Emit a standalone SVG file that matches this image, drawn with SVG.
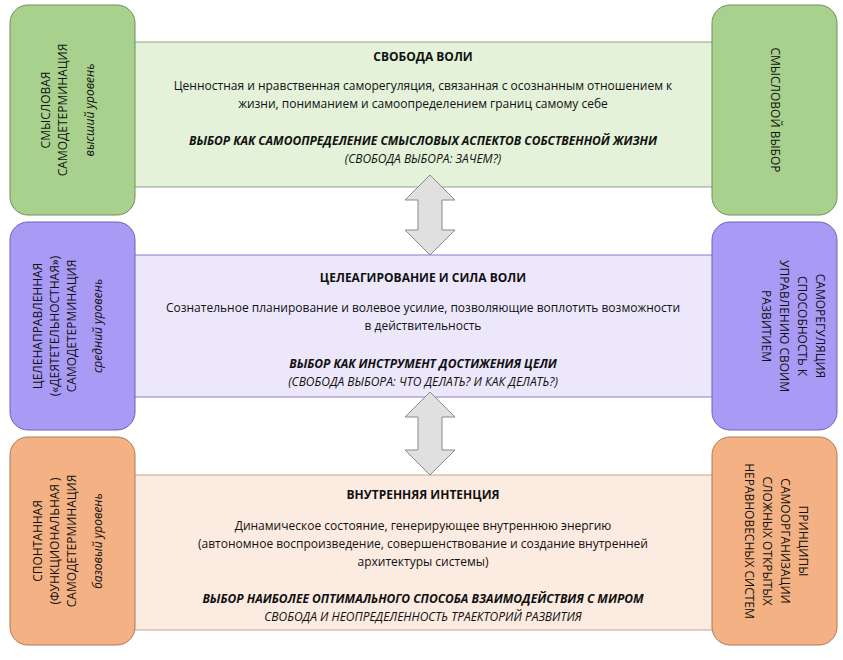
<svg xmlns="http://www.w3.org/2000/svg" width="843" height="660" viewBox="0 0 843 660">
<style>
text{font-family:"Open Sans","DejaVu Sans",sans-serif;font-size:12px;fill:#111;text-anchor:middle}
.b{font-weight:bold}.i{font-style:italic}.bi{font-weight:bold;font-style:italic}
.g{fill:#a9d18e;stroke:#6f8f57;stroke-width:1}
.p{fill:#a99af5;stroke:#6f62b8;stroke-width:1}
.o{fill:#f4b183;stroke:#b07a55;stroke-width:1}
.ar{fill:#e0e0e0;stroke:#8a8a8a;stroke-width:1}
</style>
<rect width="843" height="660" fill="#fff"/>
<g id="panel-green"><rect x="133" y="42" width="580" height="145" fill="#e3f2d9" stroke="#8aa87a"/>
<text x="423" y="61" class="b">СВОБОДА ВОЛИ</text>
<text x="423" y="90">Ценностная и нравственная саморегуляция, связанная с осознанным отношением к</text>
<text x="423" y="108">жизни, пониманием и самоопределением границ самому себе</text>
<text x="423" y="145" class="bi">ВЫБОР КАК САМООПРЕДЕЛЕНИЕ СМЫСЛОВЫХ АСПЕКТОВ СОБСТВЕННОЙ ЖИЗНИ</text>
<text x="423" y="163" class="i">(СВОБОДА ВЫБОРА: ЗАЧЕМ?)</text></g>
<g id="panel-purple"><rect x="133" y="255" width="580" height="142" fill="#ece7fb" stroke="#8a7ccf"/>
<text x="423" y="282" class="b">ЦЕЛЕАГИРОВАНИЕ И СИЛА ВОЛИ</text>
<text x="423" y="312">Сознательное планирование и волевое усилие, позволяющие воплотить возможности</text>
<text x="423" y="330">в действительность</text>
<text x="423" y="368" class="bi">ВЫБОР КАК ИНСТРУМЕНТ ДОСТИЖЕНИЯ ЦЕЛИ</text>
<text x="423" y="386" class="i">(СВОБОДА ВЫБОРА: ЧТО ДЕЛАТЬ? И КАК ДЕЛАТЬ?)</text></g>
<g id="panel-orange"><rect x="133" y="475" width="580" height="155" fill="#fcebe0" stroke="#c9a58a"/>
<text x="423" y="499" class="b">ВНУТРЕННЯЯ ИНТЕНЦИЯ</text>
<text x="423" y="530">Динамическое состояние, генерирующее внутреннюю энергию</text>
<text x="423" y="548">(автономное воспроизведение, совершенствование и создание внутренней</text>
<text x="423" y="566">архитектуры системы)</text>
<text x="423" y="603" class="bi">ВЫБОР НАИБОЛЕЕ ОПТИМАЛЬНОГО СПОСОБА ВЗАИМОДЕЙСТВИЯ С МИРОМ</text>
<text x="423" y="621" class="i">СВОБОДА И НЕОПРЕДЕЛЕННОСТЬ ТРАЕКТОРИЙ РАЗВИТИЯ</text></g>
<g id="connectors">
<polygon class="ar" points="430,175 455,200 442,200 442,230 455,230 430,255 405,230 418,230 418,200 405,200"/>
<polygon class="ar" points="430,392 455,417 442,417 442,450 455,450 430,475 405,450 418,450 418,417 405,417"/>
</g>
<g id="left-green"><rect class="g" x="10" y="5" width="125" height="210" rx="18"/>
<g transform="translate(72,110) rotate(-90)"><text y="-22">СМЫСЛОВАЯ</text><text y="-5">САМОДЕТЕРМИНАЦИЯ</text><text y="22" class="i">высший уровень</text></g></g>
<g id="left-purple"><rect class="p" x="10" y="222" width="125" height="208" rx="18"/>
<g transform="translate(72,326) rotate(-90)"><text y="-30">ЦЕЛЕНАПРАВЛЕННАЯ</text><text y="-13">(«ДЕЯТЕТЕЛЬНОСТНАЯ»)</text><text y="4">САМОДЕТЕРМИНАЦИЯ</text><text y="30" class="i">средний уровень</text></g></g>
<g id="left-orange"><rect class="o" x="10" y="437" width="125" height="208" rx="18"/>
<g transform="translate(72,541) rotate(-90)"><text y="-30">СПОНТАННАЯ</text><text y="-13">(ФУНКЦИОНАЛЬНАЯ )</text><text y="4">САМОДЕТЕРМИНАЦИЯ</text><text y="30" class="i">базовый уровень</text></g></g>
<g id="right-green"><rect class="g" x="712" y="5" width="125" height="210" rx="18"/>
<g transform="translate(775,110) rotate(90)"><text y="4">СМЫСЛОВОЙ ВЫБОР</text></g></g>
<g id="right-purple"><rect class="p" x="712" y="222" width="125" height="208" rx="18"/>
<g transform="translate(792,326) rotate(90)"><text y="-24">САМОРЕГУЛЯЦИЯ</text><text y="-6">СПОСОБНОСТЬ К</text><text y="12">УПРАВЛЕНИЮ СВОИМ</text><text y="30">РАЗВИТИЕМ</text></g></g>
<g id="right-orange"><rect class="o" x="712" y="437" width="125" height="208" rx="18"/>
<g transform="translate(775,541) rotate(90)"><text y="-24">ПРИНЦИПЫ</text><text y="-6">САМООРГАНИЗАЦИИ</text><text y="12">СЛОЖНЫХ ОТКРЫТЫХ</text><text y="30">НЕРАВНОВЕСНЫХ СИСТЕМ</text></g></g>
</svg>
